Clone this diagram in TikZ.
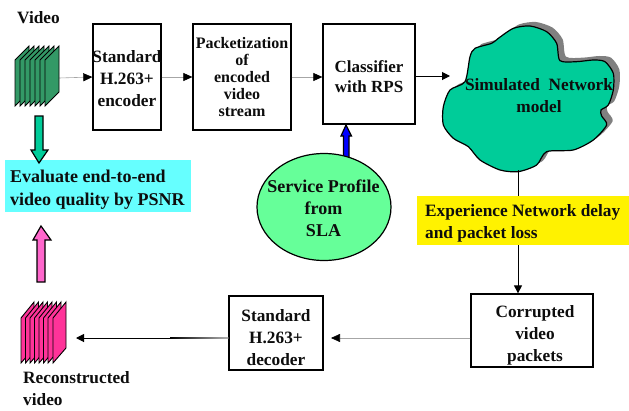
\documentclass[tikz,border=0pt]{standalone}
\usepackage{fontspec}
\setmainfont{Liberation Serif}
\usetikzlibrary{arrows.meta,shapes.geometric}
\definecolor{cgreen}{HTML}{00CC99}
\definecolor{stackgreen}{HTML}{339966}
\definecolor{stackpink}{HTML}{FF3399}
\definecolor{lpink}{HTML}{FF66CC}
\definecolor{lgreen}{HTML}{66FF99}
\definecolor{lcyan}{HTML}{66FFFF}
\definecolor{shadowgray}{HTML}{808080}
\tikzset{
  x=1pt,y=-1pt,
  lbl/.style={font=\bfseries\fontsize{17.3}{22}\selectfont,align=center,inner sep=0pt,text=black!95},
  procbox/.style={draw=black,line width=1.3pt,fill=white,inner sep=0pt},
  band/.style={inner sep=0pt,anchor=north west},
  thinarrow/.style={draw=black!35,line width=0.6pt,-{Triangle[length=9pt,width=8pt,color=black]}},
  darkarrow/.style={draw=black,line width=1pt,-{Triangle[length=8pt,width=8pt]}},
  blockarrow/.style={draw=black,line width=1.2pt,line join=miter},
  anchorbox/.style={inner sep=0pt,outer sep=0pt,draw=none},
  frame/.style={draw=black,line width=0.9pt,line join=miter},
}
\begin{document}
\begin{tikzpicture}
\useasboundingbox (0,0) rectangle (629,410);
\fill[white] (0,0) rectangle (629,410);

% anchors
\node[anchorbox,minimum width=44pt,minimum height=60pt] (vid) at (37,78) {};
\node[anchorbox,minimum width=44pt,minimum height=60pt] (rec) at (42,338) {};
\coordinate (recin) at (76,338);
\coordinate (netbottom) at (518,170);

% boxes
\node[procbox,minimum width=68pt,minimum height=106pt] (enc) at (127,77) {};
\node[procbox,minimum width=98pt,minimum height=106pt] (pkt) at (242,77) {};
\node[procbox,minimum width=92pt,minimum height=100pt] (cls) at (369,74) {};
\node[procbox,minimum width=122pt,minimum height=73pt] (cor) at (532,330.5) {};
\node[procbox,minimum width=94pt,minimum height=74pt] (dec) at (276,333) {};

\node[lbl] (enctxt) at ([yshift=-1.5pt]enc.center) {Standard\\H.263+\\encoder};
\node[lbl,font=\bfseries\fontsize{16}{17}\selectfont] (pkttxt) at (242,77) {Packetization\\of\\encoded\\video\\stream};
\node[lbl,font=\bfseries\fontsize{17}{20}\selectfont] (clstxt) at (369,77) {Classifier\\with RPS};
\node[lbl] (cortxt) at (535,335) {Corrupted\\video\\packets};
\node[lbl] (dectxt) at (276,337.5) {Standard\\H.263+\\decoder};

\draw[thinarrow] (vid.east) -- (enc.west);
\draw[thinarrow] (enc.east) -- (pkt.west);
\draw[thinarrow] (pkt.east) -- (cls.west |- pkt.east);
\draw[darkarrow] (cls.east |- 0,76) -- (450,76);

% cloud
\def\cloudpts{(105,215) (120,140) (135,115) (185,100) (205,85) (250,55) (300,48) (350,65) (380,100) (390,152) (440,155) (490,150) (525,155) (550,190) (550,240) (535,285) (513,300) (515,318) (530,345) (490,390) (430,420) (350,425) (320,465) (265,485) (210,480) (150,450) (115,410) (70,385) (40,345) (40,290) (60,240)}
\begin{scope}[shift={(430,10)},x=0.3333pt,y=-0.3333pt]
\fill[shadowgray,shift={(18,-12)}] plot[smooth cycle,tension=0.45] coordinates {\cloudpts};
\filldraw[fill=cgreen,draw=black,line width=1.2pt] plot[smooth cycle,tension=0.45] coordinates {\cloudpts};
\end{scope}
\node[lbl] (nettxt) at (539,95.5) {Simulated\hspace{0.25em} Network\\model};

% yellow and cyan bands
\draw[draw=black,line width=1pt] (netbottom) -- (518,197);
\node[band,fill=yellow,minimum width=212pt,minimum height=49pt] (yel) at (417,196) {};
\node[lbl,align=left,anchor=west] (yeltxt) at (425,223.5) {Experience Network delay\\and packet loss};
\draw[darkarrow] (yel.south -| 518,0) -- (cor.north -| 518,0);

\node[band,fill=lcyan,minimum width=186pt,minimum height=52pt] (eval) at (5,160) {};
\node[lbl,align=left,anchor=west,font=\bfseries\fontsize{18}{23}\selectfont] (evaltxt) at (10,190) {Evaluate end-to-end\\video quality by PSNR};

% ellipse and blue arrow
\draw[blockarrow,fill=blue] (343.5,157) -- (343.5,136) -- (341,136) -- (346,125) -- (351.5,136) -- (349,136) -- (349,157);
\node[draw=black,line width=1.2pt,fill=lgreen,shape=ellipse,minimum width=134pt,minimum height=107pt,inner sep=0pt] (sla) at (324,207) {};
\node[lbl,font=\bfseries\fontsize{18}{22}\selectfont] (slatxt) at (323.5,208) {Service Profile\\from\\SLA};

% block arrows
\draw[blockarrow,fill=cgreen] (35,116) -- (43,116) -- (43,150) -- (48,150) -- (39,163) -- (31,150) -- (35,150) -- cycle;
\draw[blockarrow,fill=lpink] (37,282) -- (45,282) -- (45,240) -- (51,240) -- (41,226) -- (33,240) -- (37,240) -- cycle;

% stacks
\foreach \x in {15,20,25,30,35,40,45}
  \draw[frame,fill=stackgreen] (\x,106) -- (\x,60) -- (\x+14,46) -- (\x+14,92) -- cycle;
\foreach \x in {21,25.5,30,34.5,39,43.5,48,53}
  \draw[frame,fill=stackpink] (\x,363) -- (\x,318) -- (\x+13,302) -- (\x+13,348) -- cycle;

% bottom connectors
\draw[thinarrow] (cor.west |- 0,338) -- (331,338);
\draw[darkarrow] (170,338) -- (recin);
\shade[left color=black,right color=black!30] (170,337.5) rectangle (dec.west |- 0,338.5);

% free labels
\node[lbl,anchor=west] (vlabel) at (17,18) {Video};
\node[lbl,anchor=north west,align=left] (rlabel) at (23,371.5) {Reconstructed\\video};
\end{tikzpicture}
\end{document}
